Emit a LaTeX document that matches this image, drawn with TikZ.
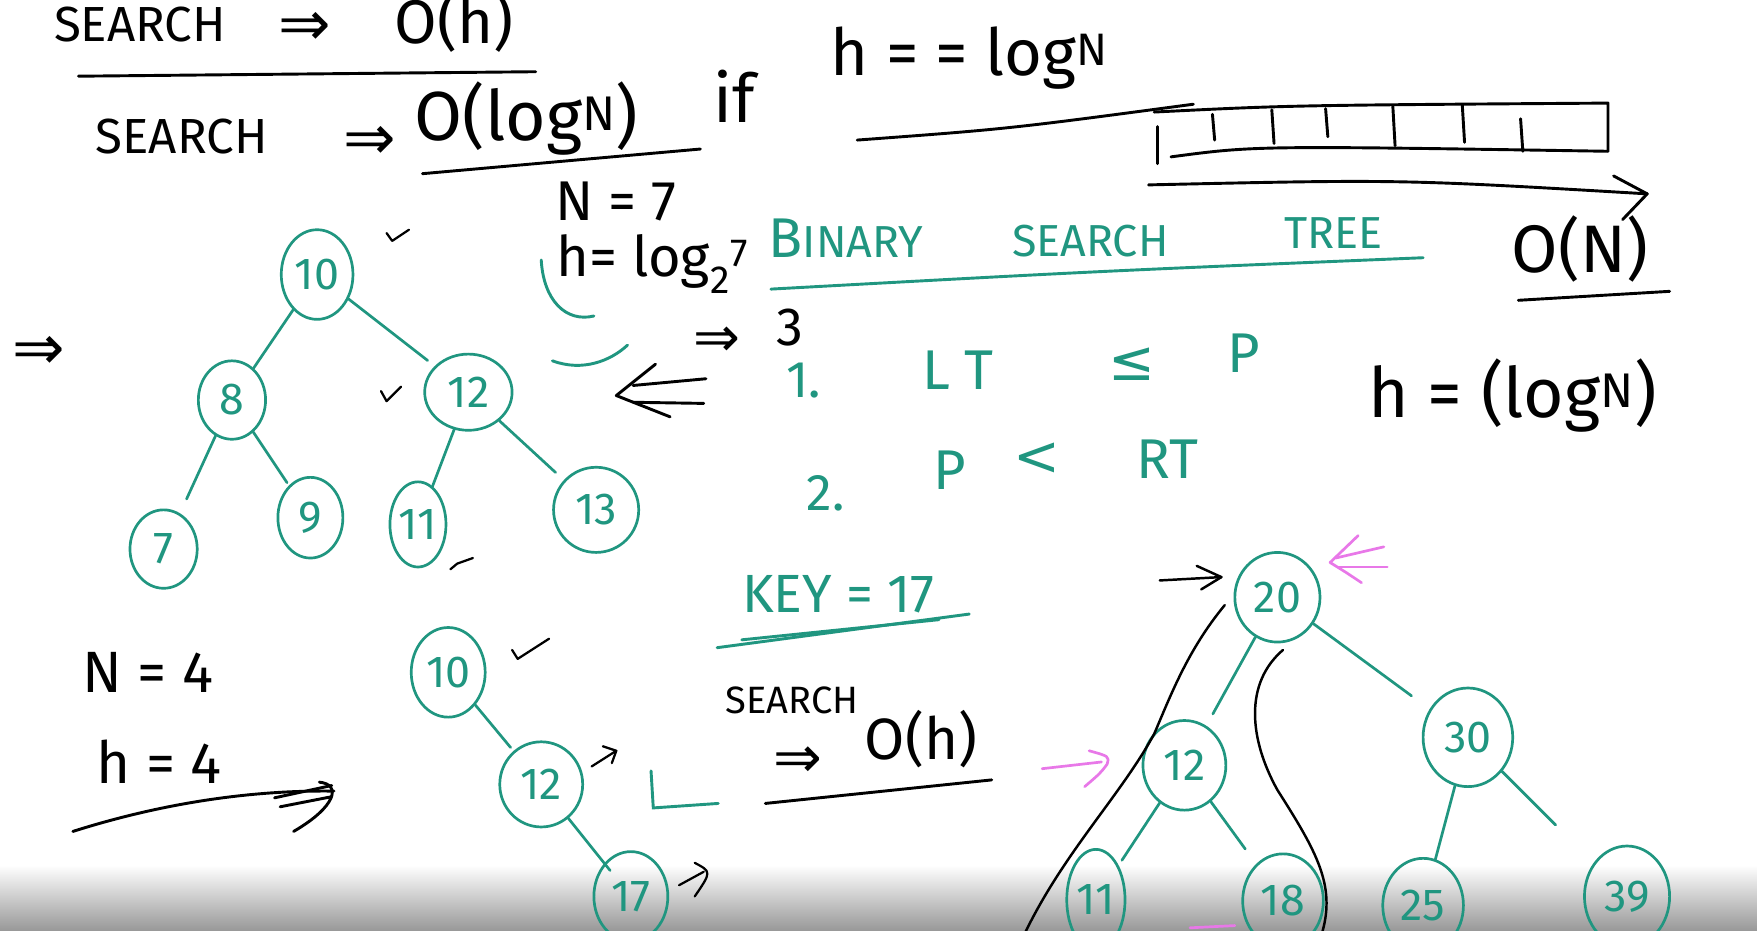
\documentclass[tikz,border=0pt]{standalone}
\usepackage{fontspec}
\setmainfont{Fira Sans}
\newfontfamily\sym{DejaVu Sans}
\usetikzlibrary{shapes.geometric,arrows.meta}
\definecolor{teal2}{RGB}{32,150,128}
\definecolor{pink2}{RGB}{232,120,232}
\begin{document}
\begin{tikzpicture}[x=1pt,y=-1pt,
 bk/.style={text=black,inner sep=0pt},
 tl/.style={text=teal2,inner sep=0pt},
 fs/.style={font=\fontsize{#1}{#1}\selectfont},
 tnode/.style={draw=teal2,line width=2.4pt,ellipse,inner sep=0pt,text=teal2,font=\fontsize{40}{42}\selectfont},
 tnum/.style={inner sep=0pt,text=teal2,font=\fontsize{40}{42}\selectfont},
 tring/.style={draw=teal2,line width=2.4pt},
 tedge/.style={draw=teal2,line width=2.4pt,line cap=round},
 bline/.style={draw=black,line width=2.6pt,line cap=round,line join=round},
 tline/.style={draw=teal2,line width=2.6pt,line cap=round},
 pline/.style={draw=pink2,line width=2.4pt,line cap=round,line join=round}
]
\useasboundingbox (0,0) rectangle (1568,830);
\clip (0,0) rectangle (1568,830);
\fill[white] (0,0) rectangle (1568,830);
\shade[top color=white,bottom color=black!40] (0,772) rectangle (1568,830);

% ---------- black text, top ----------
\node[bk,fs=44] (s1) at (125,22) {SEARCH};
\node[bk,fs=56] (ar1) at (272,26) {\sym ⇒};
\node[bk,fs=55] (oh1) at (405,20) {O(h)};
\coordinate (u1a) at (70,68); \coordinate (u1b) at (478,64);
\draw[bline] (u1a) -- (u1b);
\node[bk,fs=44] (s2) at (162,122) {SEARCH};
\node[bk,fs=56] (ar2) at (330,128) {\sym ⇒};
\node[bk,fs=62] (olog) at (470,106) {O(log\textsuperscript{N})};
\coordinate (u2a) at (377,155); \coordinate (u2b) at (625,133);
\draw[bline] (u2a) -- (u2b);
\node[bk,fs=60] (if) at (655,86) {if};
\node[bk,fs=58] (hlog) at (865,52) {h = = log\textsuperscript{N}};
\coordinate (u3a) at (765,125); \coordinate (u3b) at (1065,93);
\draw[bline] (u3a) .. controls (900,115) .. (u3b);

% ---------- array ----------
\draw[bline] (1030,100) .. controls (1150,94) .. (1435,92) -- (1435,135);
\draw[bline] (1045,140) .. controls (1120,130) .. (1435,135);
\draw[bline] (1033,113) -- (1033,146);
\foreach \x/\a/\b in {1082/102/125,1135/98/128,1183/97/122,1243/95/130,1305/94/127,1357/106/135}
  \draw[bline] (\x,\a) -- (\x+2,\b);
\coordinate (arA) at (1025,165); \coordinate (arB) at (1470,173);
\draw[bline] (arA) .. controls (1250,160) .. (arB);
\draw[bline] (1440,157) -- (arB) -- (1448,196);
\node[bk,fs=60] (oN) at (1410,222) {O(N)};
\coordinate (u4a) at (1355,268); \coordinate (u4b) at (1490,260);
\draw[bline] (u4a) -- (u4b);
\node[bk,fs=62] (hlogN) at (1350,353) {h = (log\textsuperscript{N})};

% ---------- N = 7 ----------
\node[bk,fs=50] (N7) at (550,180) {N = 7};
\node[bk,fs=50] (hl2) at (582,236) {h= log\textsubscript{2}\textsuperscript{7}};
\node[bk,fs=50] (ar3) at (640,305) {\sym ⇒};
\node[bk,fs=48] (three) at (705,292) {3};
\draw[tline] (483,232) .. controls (485,268) and (505,288) .. (530,282);
\draw[tline] (493,322) .. controls (520,332) and (545,322) .. (560,308);
% double left arrow
\coordinate (dl) at (550,353);
\draw[bline] (630,338) -- (565,344);
\draw[bline] (628,360) -- (565,359);
\draw[bline] (585,325) -- (dl) -- (598,372);
\node[bk,fs=56] (ar0) at (35,315) {\sym ⇒};

% ---------- tree 1 ----------
\node[tnode,minimum width=64,minimum height=80] (a10) at (283,245) {10};
\node[tnode,minimum width=60,minimum height=70] (a8) at (207,357) {8};
\node[tnode,minimum width=78,minimum height=68] (a12) at (418,350) {12};
\node[tnode,minimum width=60,minimum height=70] (a7) at (146,490) {7};
\node[tnode,minimum width=58,minimum height=72] (a9) at (277,462) {9};
\node[tnode,minimum width=50,minimum height=76] (a11) at (373,468) {11};
\node[tnode,minimum width=76,minimum height=76] (a13) at (532,455) {13};
\draw[tedge] (a10) -- (a8);
\draw[tedge,shorten >=8pt] (a10) -- (a12);
\draw[tedge,shorten >=14pt] (a8) -- (a7);
\draw[tedge,shorten >=3pt] (a8) -- (a9);
\draw[tedge] (a12) -- (a11);
\draw[tedge,shorten >=10pt] (a12) -- (a13);
% black ticks
\draw[bline,line width=2pt] (345,208) -- (350,215) -- (365,205);
\draw[bline,line width=2pt] (340,349) -- (345,358) -- (358,345);
\draw[bline,line width=2pt] (402,508) -- (408,503) -- (422,498);

% ---------- rules ----------
\node[tl,fs=50] (bst1) at (755,213) {B\fontsize{40}{40}\selectfont INARY};
\node[tl,fs=40] (bst2) at (973,215) {SEARCH};
\node[tl,fs=40] (bst3) at (1190,208) {TREE};
\coordinate (u5a) at (688,258); \coordinate (u5b) at (1270,230);
\draw[tline] (u5a) .. controls (980,242) .. (u5b);
\node[tl,fs=46] (r1) at (717,340) {1.};
\node[tl,fs=50] (lt) at (855,330) {L T};
\node[tl,fs=50] (le) at (1010,325) {\sym ≤};
\node[tl,fs=50] (p1) at (1110,315) {P};
\node[tl,fs=46] (r2) at (737,440) {2.};
\node[tl,fs=50] (p2) at (848,420) {P};
\node[tl,fs=50] (lt2) at (925,410) {\sym <};
\node[tl,fs=50] (rt) at (1042,410) {RT};

% ---------- key ----------
\node[tl,fs=48] (key) at (748,530) {KEY = 17};
\coordinate (k1a) at (640,578); \coordinate (k1b) at (865,548);
\coordinate (k2a) at (662,571); \coordinate (k2b) at (838,553);
\draw[tline] (k1a) -- (k1b);
\draw[tline] (k2a) -- (k2b);
\node[bk,fs=34] (s3) at (707,625) {SEARCH};
\node[bk,fs=52] (ar4) at (712,680) {\sym ⇒};
\node[bk,fs=52] (oh2) at (822,660) {O(h)};
\coordinate (u6a) at (683,717); \coordinate (u6b) at (885,696);
\draw[bline] (u6a) -- (u6b);

% ---------- N = 4 ----------
\node[bk,fs=52] (N4) at (132,600) {N = 4};
\node[bk,fs=52] (h4) at (142,680) {h = 4};
\coordinate (l4a) at (65,742); \coordinate (l4b) at (298,706);
\draw[bline] (l4a) .. controls (150,715) and (230,705) .. (l4b);
\draw[bline] (245,712) -- (296,701);
\draw[bline] (250,720) -- (296,711);
\draw[bline] (285,698) .. controls (305,700) and (300,720) .. (262,742);

% ---------- tree 2 ----------
\node[tnode,minimum width=66,minimum height=80] (b10) at (400,600) {10};
\node[tnode,minimum width=74,minimum height=76] (b12) at (483,700) {12};
\node[tnum] (b17) at (563,800) {17};
\draw[tring] (b17) ellipse (33 and 40);
\draw[tedge,shorten >=4pt] (b10) -- (b12);
\draw[tedge,shorten >=12pt] (b12) -- (b17);
\draw[bline,line width=2pt] (457,580) -- (462,588) -- (490,570);
\draw[bline,line width=2pt] (528,684) -- (550,670);
\draw[bline,line width=2pt] (538,666) -- (550,670) -- (546,681);
\draw[bline,line width=2pt] (606,790) -- (628,778);
\draw[bline,line width=2pt] (620,770) .. controls (635,778) .. (620,800);
\draw[tline] (581,688) -- (583,721) -- (641,717);

% ---------- tree 3 ----------
\node[tnode,minimum width=76,minimum height=80] (c20) at (1140,533) {20};
\node[tnode,minimum width=74,minimum height=80] (c12) at (1057,683) {12};
\node[tnode,minimum width=80,minimum height=88] (c30) at (1310,658) {30};
\node[tnum] (c11) at (978,803) {11};
\node[tnum] (c18) at (1145,804) {18};
\node[tnum] (c25) at (1270,808) {25};
\node[tnum] (c39) at (1452,800) {39};
\draw[tring] (c11) ellipse (26 and 45);
\draw[tring] (c18) ellipse (36 and 42);
\draw[tring] (c25) ellipse (36 and 42);
\draw[tring] (c39) ellipse (38 and 45);
\draw[tedge,shorten >=26pt] (c12) -- (c11);
\draw[tedge,shorten >=12pt] (c20) -- (c12);
\draw[tedge,shorten >=20pt] (c20) -- (c30);
\draw[tedge,shorten >=40pt] (c12) -- (c18);
\draw[tedge,shorten >=28pt] (c30) -- (c25);
\draw[tedge,shorten >=70pt] (c30) -- (c39);
% black path curves
\draw[bline,line width=2.2pt] (1093,540) .. controls (1060,580) and (1045,620) .. (1030,655) .. controls (1000,710) and (950,760) .. (915,832);
\draw[bline,line width=2.2pt] (1145,580) .. controls (1110,610) and (1115,660) .. (1140,705) .. controls (1175,760) and (1192,790) .. (1180,832);
\coordinate (ba) at (1035,518); \coordinate (bb) at (1090,515);
\draw[bline,line width=2.2pt] (ba) -- (bb);
\draw[bline,line width=2.2pt] (1068,505) -- (bb) -- (1072,526);
% pink arrows
\draw[pline] (1235,488) -- (1192,498);
\draw[pline] (1238,506) -- (1193,506);
\draw[pline] (1212,478) .. controls (1200,490) .. (1187,502) .. controls (1200,510) .. (1215,520);
\draw[pline] (930,686) -- (983,680);
\draw[pline] (972,670) .. controls (990,675) .. (988,682) .. controls (982,690) .. (968,702);
\draw[pline] (1062,828) -- (1102,826);
\end{tikzpicture}
\end{document}
